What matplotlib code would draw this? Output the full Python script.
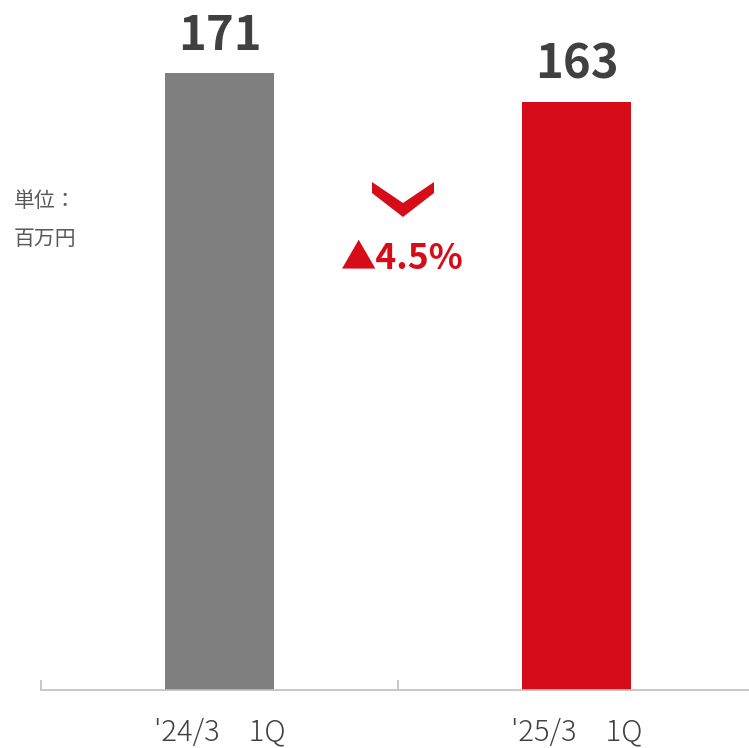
import matplotlib
matplotlib.use('Agg')
import matplotlib.pyplot as plt
from matplotlib.patches import Polygon
import numpy as np

# data
categories = ["'24/3\u30001Q", "'25/3\u30001Q"]
values = [171, 163]
bar_colors = ['#7f7f7f', '#d70c19']
change_label = '\u25b24.5%'
unit_lines = ['単位：', '百万円']

plt.rcParams['font.family'] = ['Noto Sans CJK JP', 'DejaVu Sans']

W, H = 749, 748
fig = plt.figure(figsize=(W / 100, H / 100), dpi=100)

# axes spans past the right edge, like the original
ax = fig.add_axes([41 / W, 58 / H, (755 - 41) / W, 690 / H])
x = np.arange(len(categories))
ax.bar(x, values, width=0.305, color=bar_colors, zorder=2)

ax.set_xlim(-0.5, len(categories) - 0.5)
ax.set_ylim(0, 191.2)

for s in ['top', 'right', 'left']:
    ax.spines[s].set_visible(False)
ax.spines['bottom'].set_color('#bfbfbf')
ax.spines['bottom'].set_linewidth(1.2)
ax.set_yticks([])
ax.set_xticks(x)
ax.set_xticklabels([])
ax.tick_params(axis='x', which='major', length=0)
ax.set_xticks(np.arange(-0.5, len(categories)), minor=True)
ax.tick_params(axis='x', which='minor', direction='in', length=7,
               color='#bfbfbf', width=1.2)

# category labels
for i, lab in enumerate(categories):
    ax.annotate(lab, xy=(i, 0), xytext=(0, -36), textcoords='offset points',
                ha='center', va='baseline', fontsize=21, fontweight='light',
                color='#404040', annotation_clip=False)

# value labels
for i, v in enumerate(values):
    ax.annotate(str(v), xy=(i, v), xytext=(0, 16.6), textcoords='offset points',
                ha='center', va='baseline', fontsize=34, fontweight='bold',
                color='#404040', annotation_clip=False)

# chevron marker between bars
chev = [(372, 182), (403, 203), (434, 182), (434, 193), (403, 217), (372, 193)]
fig.patches.append(Polygon([(px / W, 1 - py / H) for px, py in chev],
                           closed=True, transform=fig.transFigure,
                           facecolor='#d70c19', edgecolor='none'))

fig.text(402.5 / W, 1 - 269 / H, change_label, ha='center', va='baseline',
         fontsize=25.5, fontweight='bold', color='#d70c19')

# unit
fig.text(14 / W, 1 - 207 / H, unit_lines[0], ha='left', va='baseline',
         fontsize=15, color='#595959')
fig.text(14 / W, 1 - 245 / H, unit_lines[1], ha='left', va='baseline',
         fontsize=15, color='#595959')

fig.savefig('out.png', dpi=100)
